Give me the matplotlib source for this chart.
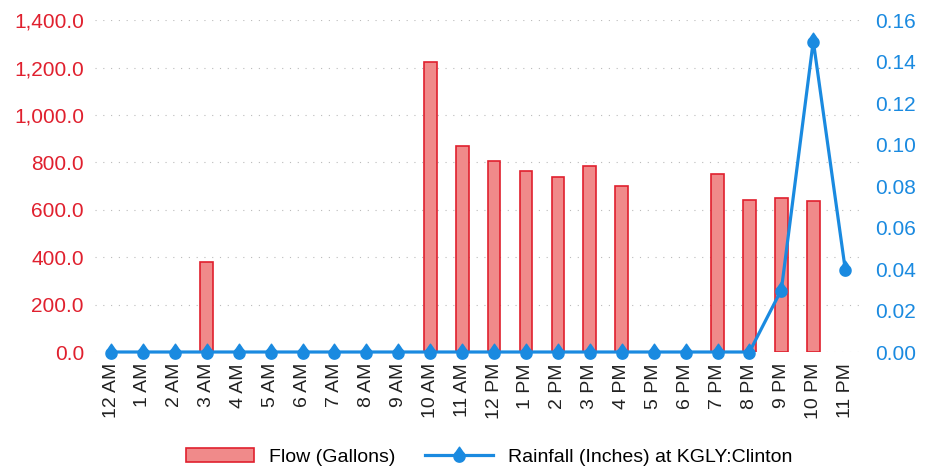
import numpy as np
import matplotlib.pyplot as plt
from matplotlib.path import Path
from matplotlib.patches import Patch

hours = ['12 AM', '1 AM', '2 AM', '3 AM', '4 AM', '5 AM', '6 AM', '7 AM', '8 AM', '9 AM',
         '10 AM', '11 AM', '12 PM', '1 PM', '2 PM', '3 PM', '4 PM', '5 PM', '6 PM', '7 PM',
         '8 PM', '9 PM', '10 PM', '11 PM']
flow = [0, 0, 0, 380, 0, 0, 0, 0, 0, 0,
        1225, 870, 806, 764, 738, 785, 700, 0, 0, 751,
        641, 648, 637, 0]
rain = [0, 0, 0, 0, 0, 0, 0, 0, 0, 0,
        0, 0, 0, 0, 0, 0, 0, 0, 0, 0,
        0, 0.03, 0.15, 0.04]

red = '#e0202e'
blue = '#1a8ae0'
barfill = '#f08a8a'

plt.rcParams['font.family'] = ['Liberation Sans', 'DejaVu Sans']

# teardrop marker, point up
ang = np.radians(np.linspace(130, 410, 40))
pts = [(0, 1.5)] + [(np.cos(a), np.sin(a) - 0.2) for a in ang] + [(0, 1.5)]
drop = Path(pts, [Path.MOVETO] + [Path.LINETO] * (len(pts) - 2) + [Path.CLOSEPOLY])

fig = plt.figure(figsize=(9.32, 4.76), dpi=100)
ax = fig.add_axes([0.102, 0.2605, 0.822, 0.697])
x = np.arange(len(hours))
bars = ax.bar(x, flow, width=0.4, color=barfill, edgecolor=red, linewidth=1.2, zorder=2)
for b, v in zip(bars, flow):
    if v == 0:
        b.set_linewidth(0)
ax.set_ylim(0, 1400)
ax.set_xlim(-0.5, 23.5)
ax.set_yticks(np.arange(0, 1401, 200))
ax.set_yticklabels([f'{v:,.1f}' for v in np.arange(0, 1401, 200)])
ax.tick_params(axis='y', colors=red, labelsize=15, length=0, pad=8)
ax.set_xticks(x)
ax.set_xticklabels(hours, rotation=90, fontsize=14, color='#222222')
ax.tick_params(axis='x', length=0, pad=8)
ax.grid(axis='y', color='#bbbbbb', linestyle=(0, (1, 6)), linewidth=0.8)
ax.set_axisbelow(True)
for s in ax.spines.values():
    s.set_visible(False)

ax2 = ax.twinx()
line, = ax2.plot(x, rain, color=blue, linewidth=2.3, marker=drop, markersize=12,
                 markerfacecolor=blue, markeredgecolor=blue, zorder=3, clip_on=False)
ax2.set_ylim(0, 0.16)
ax2.set_yticks(np.arange(0, 0.161, 0.02))
ax2.set_yticklabels([f'{v:.2f}' for v in np.arange(0, 0.161, 0.02)])
ax2.tick_params(axis='y', colors=blue, labelsize=15, length=0, pad=10)
for s in ax2.spines.values():
    s.set_visible(False)

flow_patch = Patch(facecolor=barfill, edgecolor=red, linewidth=1.2)
fig.legend([flow_patch, line], ['Flow (Gallons)', 'Rainfall (Inches) at KGLY:Clinton'],
           loc='lower center', bbox_to_anchor=(0.525, -0.015), ncol=2,
           frameon=False, fontsize=14, handlelength=3.5, columnspacing=1.5)

fig.savefig('out.png', dpi=100)
